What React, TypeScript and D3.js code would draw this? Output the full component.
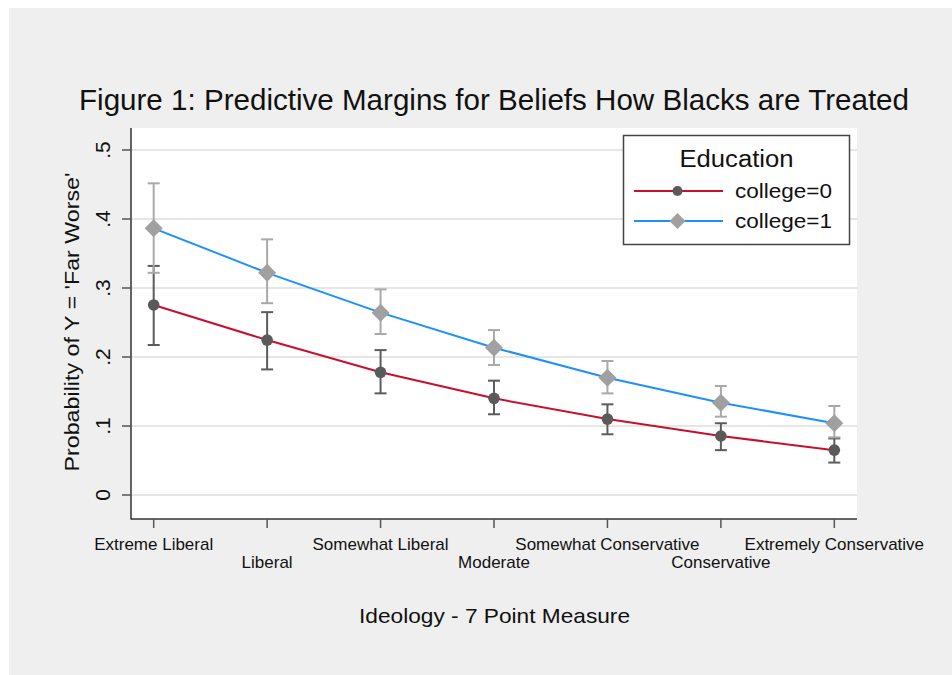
import React from "react";
import * as d3 from "d3";

const categories = [
  "Extreme Liberal",
  "Liberal",
  "Somewhat Liberal",
  "Moderate",
  "Somewhat Conservative",
  "Conservative",
  "Extremely Conservative",
];
const college0 = [0.2754, 0.2246, 0.1778, 0.1401, 0.110, 0.0855, 0.065];
const college0Lo = [0.2174, 0.182, 0.1473, 0.117, 0.088, 0.065, 0.047];
const college0Hi = [0.332, 0.265, 0.210, 0.1657, 0.1314, 0.104, 0.082];
const college1 = [0.3865, 0.322, 0.2643, 0.2135, 0.170, 0.1338, 0.104];
const college1Lo = [0.322, 0.278, 0.2333, 0.1884, 0.1473, 0.1135, 0.0836];
const college1Hi = [0.4517, 0.3705, 0.298, 0.239, 0.1942, 0.158, 0.129];
const yTicks = [0, 0.1, 0.2, 0.3, 0.4, 0.5];
const yTickLabels = ["0", ".1", ".2", ".3", ".4", ".5"];
const seriesNames = ["college=0", "college=1"];

const FONT = "'Liberation Sans', Arial, sans-serif";

export default function App() {
  const W = 952;
  const H = 675;
  const left = 131, right = 857, top = 128, bottom = 519;
  const x = d3.scaleLinear().domain([0.8, 7.2]).range([left, right]);
  const y = d3.scaleLinear().domain([0, 0.5]).range([495, 150]);
  const idx = categories.map((_, i) => i + 1);

  const line = d3
    .line<number>()
    .x((_, i) => x(i + 1))
    .y((d) => y(d));

  const darkCI = "#5c5c5c";
  const lightCI = "#a9a9a9";
  const red = "#c8102e";
  const blue = "#1e8fff";
  const capW = 6;

  const ci = (lo: number[], hi: number[], color: string, key: string) =>
    idx.map((v, i) => (
      <g key={key + i} stroke={color} strokeWidth={2}>
        <line x1={x(v)} x2={x(v)} y1={y(lo[i])} y2={y(hi[i])} />
        <line x1={x(v) - capW} x2={x(v) + capW} y1={y(lo[i])} y2={y(lo[i])} />
        <line x1={x(v) - capW} x2={x(v) + capW} y1={y(hi[i])} y2={y(hi[i])} />
      </g>
    ));

  const diamond = (cx: number, cy: number, r: number) =>
    `M${cx},${cy - r}L${cx + r},${cy}L${cx},${cy + r}L${cx - r},${cy}Z`;

  return (
    <svg width={W} height={H} style={{ position: "absolute", left: 0, top: 0 }}>
      <rect x={0} y={0} width={W} height={H} fill="#ffffff" />
      <rect x={9} y={8} width={W - 9} height={H - 8} fill="#efefef" />
      <rect x={left} y={top} width={right - left} height={bottom - top} fill="#ffffff" />

      {/* gridlines */}
      {yTicks.map((t) => (
        <line key={"g" + t} x1={left} x2={right} y1={y(t)} y2={y(t)} stroke="#e6e6e6" strokeWidth={2} />
      ))}

      {/* title */}
      <text x={494} y={110} textAnchor="middle" fontFamily={FONT} fontSize={29} fill="#111"
        textLength={830} lengthAdjust="spacingAndGlyphs">
        Figure 1: Predictive Margins for Beliefs How Blacks are Treated
      </text>

      {/* axes */}
      <line x1={left} x2={left} y1={top} y2={bottom + 0.5} stroke="#333" strokeWidth={1.5} />
      <line x1={left} x2={right} y1={bottom} y2={bottom} stroke="#333" strokeWidth={1.5} />
      {yTicks.map((t, i) => (
        <g key={"yt" + t}>
          <line x1={left - 9} x2={left} y1={y(t)} y2={y(t)} stroke="#555" strokeWidth={1.5} />
          <text transform={`translate(110,${y(t)}) rotate(-90)`} textAnchor="middle"
            fontFamily={FONT} fontSize={21} fill="#111">
            {yTickLabels[i]}
          </text>
        </g>
      ))}
      {idx.map((v, i) => (
        <g key={"xt" + v}>
          <line x1={x(v)} x2={x(v)} y1={bottom} y2={bottom + 9} stroke="#555" strokeWidth={1.5} />
          <text x={x(v)} y={i % 2 === 0 ? 550 : 568} textAnchor="middle" fontFamily={FONT}
            fontSize={17} fill="#111">
            {categories[i]}
          </text>
        </g>
      ))}

      <text transform={`translate(79,322) rotate(-90)`} textAnchor="middle" fontFamily={FONT}
        fontSize={21} fill="#111" textLength={299} lengthAdjust="spacingAndGlyphs">
        Probability of Y = 'Far Worse'
      </text>
      <text x={494.5} y={623} textAnchor="middle" fontFamily={FONT} fontSize={21} fill="#111"
        textLength={271} lengthAdjust="spacingAndGlyphs">
        Ideology - 7 Point Measure
      </text>

      {/* CIs */}
      {ci(college0Lo, college0Hi, darkCI, "c0")}
      {ci(college1Lo, college1Hi, lightCI, "c1")}

      {/* lines */}
      <path d={line(college0) || ""} fill="none" stroke={red} strokeWidth={2} />
      <path d={line(college1) || ""} fill="none" stroke={blue} strokeWidth={2} />

      {/* markers */}
      {college0.map((d, i) => (
        <circle key={"m0" + i} cx={x(i + 1)} cy={y(d)} r={5.8} fill="#5a5a5a" />
      ))}
      {college1.map((d, i) => (
        <path key={"m1" + i} d={diamond(x(i + 1), y(d), 9)} fill="#a0a0a0" />
      ))}

      {/* legend */}
      <rect x={623.5} y={135.5} width={226} height={109} fill="#fff" stroke="#444" strokeWidth={1.5} />
      <text x={736.5} y={167} textAnchor="middle" fontFamily={FONT} fontSize={23} fill="#111"
        textLength={114} lengthAdjust="spacingAndGlyphs">
        Education
      </text>
      <line x1={634} x2={723} y1={191} y2={191} stroke={red} strokeWidth={2} />
      <circle cx={677.5} cy={191} r={5} fill="#5a5a5a" />
      <text x={735} y={197.5} fontFamily={FONT} fontSize={19.5} fill="#111"
        textLength={97} lengthAdjust="spacingAndGlyphs">
        {seriesNames[0]}
      </text>
      <line x1={634} x2={723} y1={221} y2={221} stroke={blue} strokeWidth={2} />
      <path d={diamond(677.5, 221, 8)} fill="#a0a0a0" />
      <text x={735} y={227.5} fontFamily={FONT} fontSize={19.5} fill="#111"
        textLength={97} lengthAdjust="spacingAndGlyphs">
        {seriesNames[1]}
      </text>
    </svg>
  );
}
